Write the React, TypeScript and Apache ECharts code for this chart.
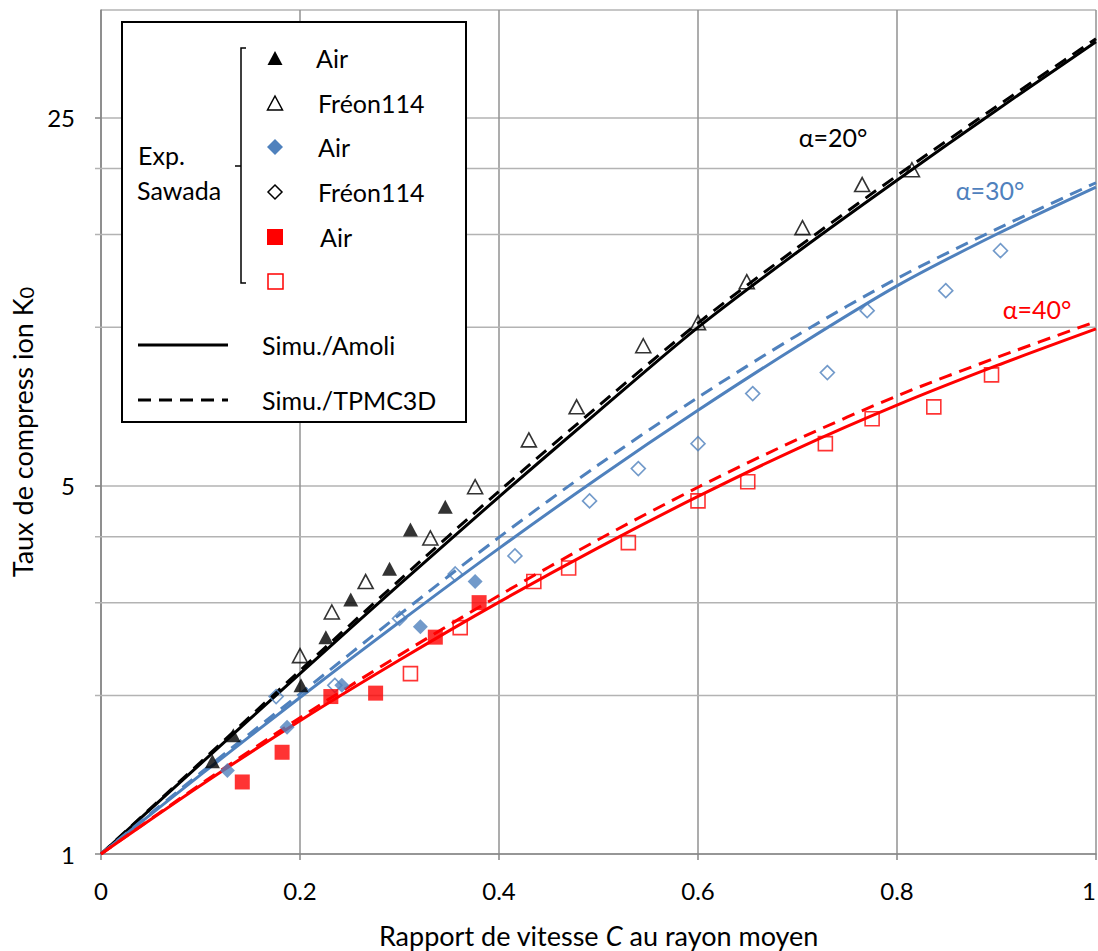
import { useEffect, useRef } from 'react';
import * as echarts from 'echarts';

// Simulation curves sampled at these C values
const lineX = [0, 0.1, 0.2, 0.3, 0.4, 0.5, 0.6, 0.7, 0.8, 0.9, 1.0];
const amoli20 = [1, 1.483, 2.2, 3.248, 4.764, 6.92, 9.989, 13.89, 19.01, 25.82, 34.83];
const tpmc20 = [1, 1.493, 2.229, 3.311, 4.881, 7.089, 10.18, 14.16, 19.39, 26.24, 35.28];
const amoli30 = [1, 1.413, 1.982, 2.756, 3.803, 5.18, 6.954, 9.202, 11.98, 15.01, 18.44];
const tpmc30 = [1, 1.425, 2.014, 2.847, 3.991, 5.48, 7.357, 9.657, 12.37, 15.35, 18.8];
const amoli40 = [1, 1.349, 1.791, 2.335, 3.007, 3.815, 4.772, 5.883, 7.112, 8.45, 9.924];
const tpmc40 = [1, 1.356, 1.814, 2.385, 3.095, 3.953, 4.968, 6.124, 7.404, 8.754, 10.25];

// Experimental points (Sawada)
const expAir20 = [[0.112, 1.5], [0.133, 1.68], [0.201, 2.09], [0.226, 2.58], [0.251, 3.04], [0.29, 3.48], [0.311, 4.13], [0.346, 4.56]];
const expFreon20 = [[0.2, 2.38], [0.232, 2.88], [0.266, 3.29], [0.331, 3.98], [0.376, 4.98], [0.43, 6.11], [0.478, 7.06], [0.545, 9.22], [0.6, 10.2], [0.649, 12.2], [0.705, 15.45], [0.765, 18.65], [0.815, 19.9]];
const expAir30 = [[0.127, 1.44], [0.187, 1.74], [0.242, 2.09], [0.321, 2.7], [0.376, 3.29]];
const expFreon30 = [[0.176, 1.99], [0.235, 2.09], [0.3, 2.8], [0.356, 3.4], [0.416, 3.68], [0.491, 4.68], [0.54, 5.39], [0.6, 6.01], [0.655, 7.48], [0.73, 8.2], [0.77, 10.75], [0.849, 11.73], [0.904, 13.97]];
const expAir40 = [[0.142, 1.37], [0.182, 1.56], [0.231, 1.99], [0.276, 2.02], [0.336, 2.58], [0.38, 3.0]];
const expFreon40 = [[0.311, 2.2], [0.361, 2.69], [0.435, 3.29], [0.47, 3.49], [0.53, 3.9], [0.6, 4.68], [0.65, 5.09], [0.728, 6.01], [0.775, 6.7], [0.837, 7.06], [0.895, 8.12]];

// Axis settings
const xTicks = [0, 0.2, 0.4, 0.6, 0.8, 1];
const yMin = 1;
const yMax = 40;
const yMinorGrid = [2, 3, 4, 10, 15, 20];

const FONT = 'Lato';
const BLUE = '#4f81bd';
const RED = '#ff0000';

export default function App() {
  const ref = useRef<HTMLDivElement>(null);
  useEffect(() => {
    const chart = echarts.init(ref.current as HTMLDivElement, null, { renderer: 'svg' });
    const zip = (ys: number[]) => lineX.map((x, i) => [x, ys[i]]);
    const lineSeries = (name: string, ys: number[], color: string, dashed: boolean) => ({
      type: 'line',
      name,
      data: zip(ys),
      showSymbol: false,
      smooth: 0.3,
      z: 3,
      lineStyle: { color, width: 3, type: dashed ? [13, 8] : 'solid' },
    });
    const scatter = (name: string, data: number[][], symbol: string, size: any, color: string, filled: boolean) => ({
      type: 'scatter',
      name,
      data,
      symbol,
      symbolSize: size,
      z: 5,
      itemStyle: filled
        ? { color }
        : { color: 'rgba(255,255,255,0)', borderColor: color, borderWidth: 1.6 },
    });
    const txt = (text: string, x: number, y: number, size = 25, fill = '#000', align = 'left') => ({
      type: 'text',
      x,
      y,
      z: 102,
      style: { text, fontSize: size, fontFamily: FONT, fill, align, verticalAlign: 'middle' },
    });
    const option: any = {
      animation: false,
      backgroundColor: '#fff',
      textStyle: { fontFamily: FONT },
      grid: { left: 101, top: 10, right: 2, bottom: 97, containLabel: false, outerBoundsMode: 'none' },
      xAxis: {
        type: 'value',
        min: xTicks[0],
        max: xTicks[xTicks.length - 1],
        interval: 0.2,
        axisLine: { show: true, lineStyle: { color: '#868686', width: 1.5 } },
        axisTick: { show: true, length: 6, lineStyle: { color: '#868686', width: 1.5 } },
        axisLabel: { fontSize: 24, color: '#000', margin: 24, fontFamily: FONT, alignMaxLabel: 'right' },
        splitLine: { show: true, lineStyle: { color: '#929292', width: 1.5 } },
        name: 'Rapport de vitesse {i|C} au rayon moyen',
        nameLocation: 'middle',
        nameGap: 68,
        nameTextStyle: {
          fontSize: 27,
          color: '#000',
          fontFamily: FONT,
          rich: { i: { fontStyle: 'italic', fontSize: 27, fontFamily: FONT, color: '#000' } },
        },
      },
      yAxis: {
        type: 'log',
        logBase: 5,
        min: yMin,
        max: yMax,
        axisLine: { show: true, lineStyle: { color: '#868686', width: 1.5 } },
        axisTick: { show: true, length: 6, lineStyle: { color: '#868686', width: 1.5 } },
        axisLabel: {
          fontSize: 24,
          color: '#000',
          margin: 26,
          fontFamily: FONT,
          showMaxLabel: false,
          formatter: (v: number) => String(Math.round(v)),
        },
        splitLine: { show: true, lineStyle: { color: '#b3b3b3', width: 1.5 } },
        name: 'Taux de compress ion K{s|0}',
        nameLocation: 'middle',
        nameGap: 65,
        nameTextStyle: {
          fontSize: 27,
          color: '#000',
          fontFamily: FONT,
          rich: { s: { fontSize: 20, fontFamily: FONT, color: '#000', padding: [7, 0, 0, 0] } },
        },
      },
      series: [
        {
          type: 'custom',
          name: 'minorGrid',
          silent: true,
          z: 1,
          clip: false,
          data: yMinorGrid.map((v) => [0, v]),
          renderItem: (_p: any, api: any) => {
            const v = api.value(1);
            const a = api.coord([xTicks[0], v]);
            const b = api.coord([xTicks[xTicks.length - 1], v]);
            return {
              type: 'line',
              shape: { x1: a[0] - 6, y1: a[1], x2: b[0], y2: b[1] },
              style: { stroke: '#b3b3b3', lineWidth: 1.5 },
            };
          },
        },
        lineSeries('Simu./Amoli α=20°', amoli20, '#000', false),
        lineSeries('Simu./TPMC3D α=20°', tpmc20, '#000', true),
        lineSeries('Simu./Amoli α=30°', amoli30, BLUE, false),
        lineSeries('Simu./TPMC3D α=30°', tpmc30, BLUE, true),
        lineSeries('Simu./Amoli α=40°', amoli40, RED, false),
        lineSeries('Simu./TPMC3D α=40°', tpmc40, RED, true),
        scatter('Air α=20°', expAir20, 'triangle', [15, 14], '#000', true),
        scatter('Fréon114 α=20°', expFreon20, 'triangle', [15, 14], '#000', false),
        scatter('Air α=30°', expAir30, 'diamond', [15, 15], BLUE, true),
        scatter('Fréon114 α=30°', expFreon30, 'diamond', [14, 14], BLUE, false),
        scatter('Air α=40°', expAir40, 'rect', [15, 15], RED, true),
        scatter('Fréon114 α=40°', expFreon40, 'rect', [14, 14], RED, false),
      ],
      graphic: [
        { type: 'rect', z: 100, shape: { x: 122, y: 22, width: 344, height: 400 }, style: { fill: '#fff', stroke: '#000', lineWidth: 2 } },
        { type: 'polyline', z: 101, shape: { points: [[246, 48], [241, 48], [241, 283], [246, 283]] }, style: { stroke: '#000', lineWidth: 1.5, fill: null } },
        { type: 'line', z: 101, shape: { x1: 235, y1: 166, x2: 241, y2: 166 }, style: { stroke: '#000', lineWidth: 1.5 } },
        txt('Exp.', 138, 155),
        txt('Sawada', 137, 190),
        { type: 'polygon', z: 101, shape: { points: [[275, 51], [282.5, 65], [267.5, 65]] }, style: { fill: '#000' } },
        { type: 'polygon', z: 101, shape: { points: [[275, 96], [282.5, 110], [267.5, 110]] }, style: { fill: '#fff', stroke: '#000', lineWidth: 1.5 } },
        { type: 'polygon', z: 101, shape: { points: [[275, 139], [283, 147], [275, 155], [267, 147]] }, style: { fill: BLUE } },
        { type: 'polygon', z: 101, shape: { points: [[275, 185], [282, 192], [275, 199], [268, 192]] }, style: { fill: '#fff', stroke: '#000', lineWidth: 1.5 } },
        { type: 'rect', z: 101, shape: { x: 267, y: 229, width: 16, height: 16 }, style: { fill: RED } },
        { type: 'rect', z: 101, shape: { x: 268, y: 274, width: 15, height: 15 }, style: { fill: '#fff', stroke: RED, lineWidth: 1.5 } },
        txt('Air', 316, 58),
        txt('Fréon114', 318, 103),
        txt('Air', 318, 147),
        txt('Fréon114', 318, 192),
        txt('Air', 320, 237),
        { type: 'line', z: 101, shape: { x1: 138, y1: 345, x2: 228, y2: 345 }, style: { stroke: '#000', lineWidth: 3 } },
        { type: 'line', z: 101, shape: { x1: 138, y1: 400, x2: 228, y2: 400 }, style: { stroke: '#000', lineWidth: 3, lineDash: [13, 8] } },
        txt('Simu./Amoli', 262, 345),
        txt('Simu./TPMC3D', 262, 400),
        txt('α=20°', 833, 137, 25, '#000', 'center'),
        txt('α=30°', 990, 190, 25, BLUE, 'center'),
        txt('α=40°', 1037, 309, 25, RED, 'center'),
      ],
    };
    chart.setOption(option);
    return () => chart.dispose();
  }, []);
  return (
    <div
      ref={ref}
      style={{ position: 'absolute', left: 0, top: 0, width: 1098, height: 951, background: '#fff' }}
    />
  );
}
